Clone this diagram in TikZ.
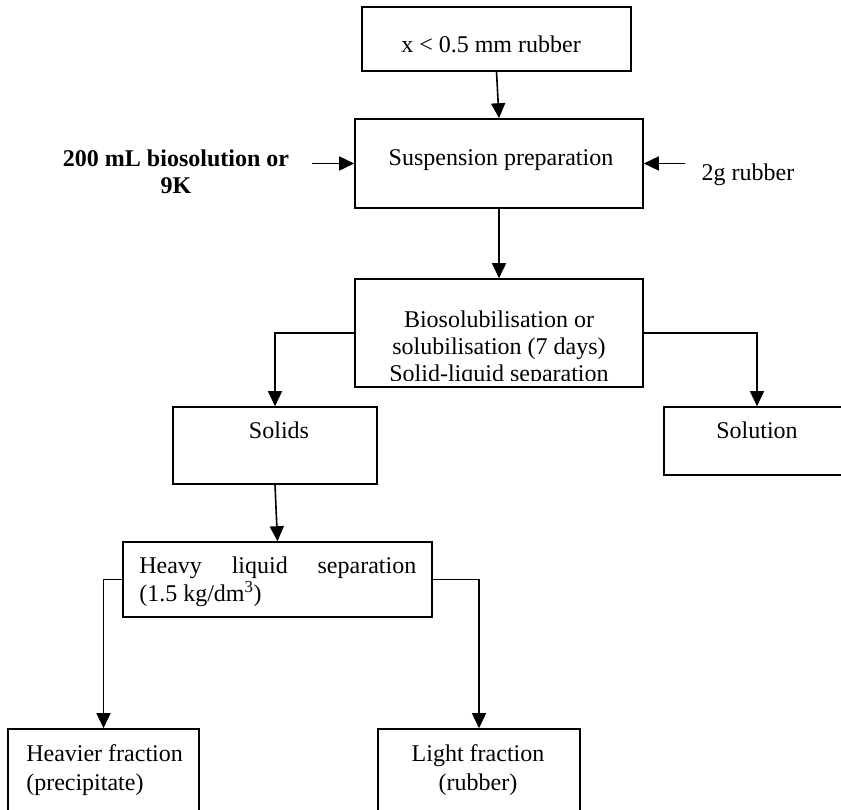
\documentclass[tikz,border=0pt]{standalone}
\usepackage{fontspec}
\setmainfont{Liberation Serif}
\usetikzlibrary{arrows.meta}
\begin{document}
\begin{tikzpicture}[x=0.75pt,y=-0.75pt,
  box/.style={draw, line width=1.2pt, inner sep=0pt},
  txt/.style={inner sep=0pt, font=\fontsize{18pt}{20.25pt}\selectfont},
  arr/.style={line width=1.2pt, -{Triangle[length=11.25pt,width=10.5pt]}}]
\useasboundingbox (0,0) rectangle (841,809);
\clip (0,0) rectangle (841,809);
% boxes
\node[box, minimum width=201.75pt, minimum height=48pt] (top) at (496.5,39) {};
\node[box, minimum width=216pt, minimum height=66.75pt] (susp) at (499,163.5) {};
\node[box, minimum width=216pt, minimum height=81pt] (bio) at (499,333) {};
\node[box, minimum width=153pt, minimum height=57.75pt] (solids) at (275,445.5) {};
\node[box, minimum width=139.5pt, minimum height=51pt] (solution) at (757,441) {};
\node[box, minimum width=231.75pt, minimum height=56.25pt] (heavy) at (277.5,579.5) {};
\node[box, minimum width=143.25pt, minimum height=83.25pt] (heavier) at (103.5,784.5) {};
\node[box, minimum width=151.5pt, minimum height=83.25pt] (light) at (479,784.5) {};
% texts
\node[txt, anchor=base] (ttop) at (491,53) {x < 0.5 mm rubber};
\node[txt, anchor=base] (tsusp) at (501,166) {Suspension preparation};
\node[txt, anchor=base] (tleft) at (176,167) {\parbox[t]{200pt}{\centering\bfseries 200 mL biosolution or\\9K}};
\node[txt, anchor=base] (tright) at (748,181) {2g rubber};
\begin{scope}
  \clip (355,279) rectangle (643,380);
  \node[txt, anchor=base] (tbio) at (499,327) {\parbox[t]{202.5pt}{\centering\fontsize{18pt}{20.25pt}\selectfont Biosolubilisation or\\solubilisation (7 days)\\Solid-liquid separation}};
\end{scope}
\node[txt, anchor=base] (tsolids) at (279,438) {Solids};
\node[txt, anchor=base] (tsolution) at (757,438) {Solution};
\node[txt, anchor=base west] (theavy) at (139,573) {\parbox[t]{207.75pt}{\fontsize{18pt}{21pt}\selectfont\makebox[\linewidth][s]{Heavy liquid separation}\\(1.5 kg/dm\textsuperscript{3})}};
\node[txt, anchor=base west] (theavier) at (26,761) {\parbox[t]{140pt}{\raggedright\fontsize{18pt}{21.75pt}\selectfont Heavier fraction\\(precipitate)}};
\node[txt, anchor=base] (tlight) at (478,761) {\parbox[t]{140pt}{\centering\fontsize{18pt}{21.75pt}\selectfont Light fraction\\(rubber)}};
% connectors
\coordinate (inL) at (312,163.5);
\coordinate (inR) at (685,163.5);
\draw[arr] (top.south) -- (susp.north);
\draw[arr] (inL) -- (susp.west);
\draw[arr] (inR) -- (susp.east);
\draw[arr] (susp.south) -- (bio.north);
\draw[arr] (bio.west) -| (solids.north);
\draw[arr] (bio.east) -| (solution.north);
\draw[arr] (solids.south) -- (heavy.north);
\draw[arr] (heavy.west) -| (heavier.north);
\draw[arr] (heavy.east) -| (light.north);
\end{tikzpicture}
\end{document}
